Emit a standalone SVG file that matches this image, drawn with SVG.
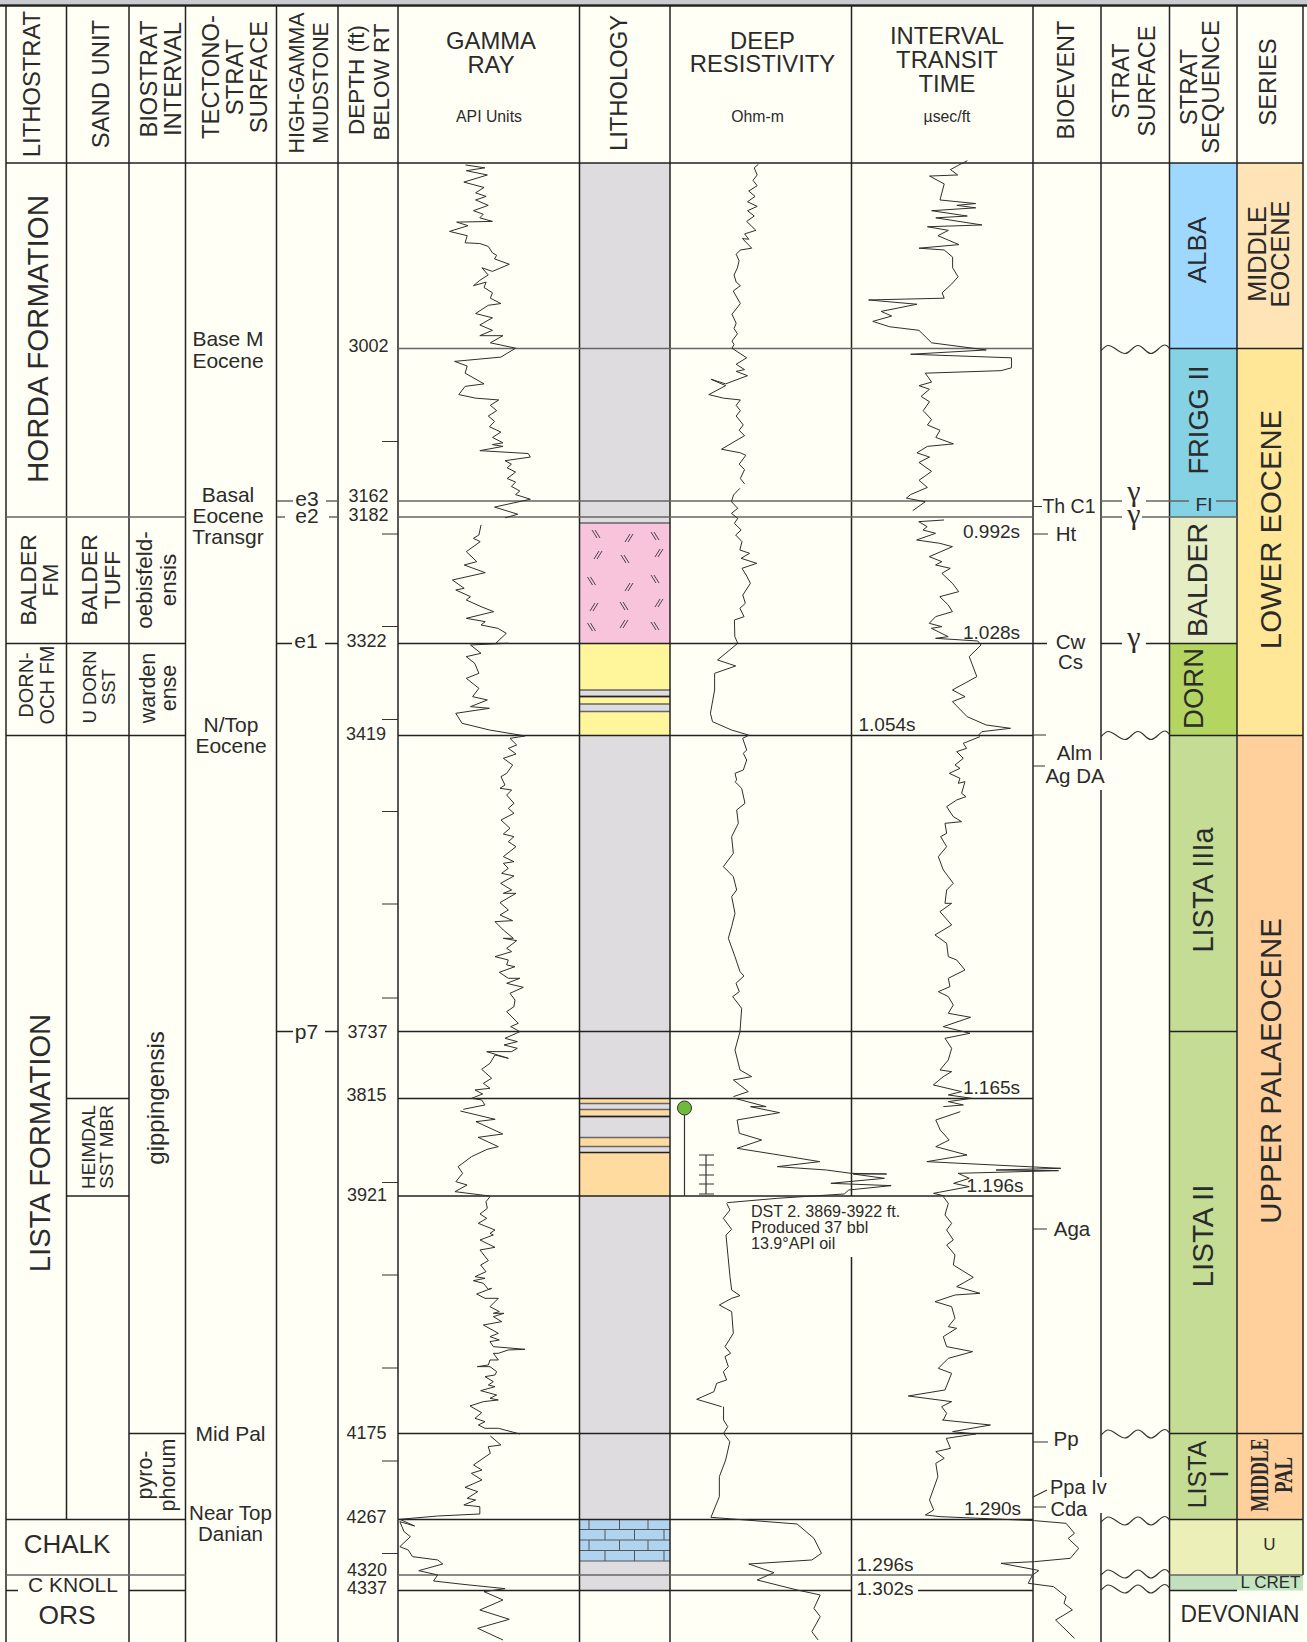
<svg xmlns="http://www.w3.org/2000/svg" width="1307" height="1642" viewBox="0 0 1307 1642">
<style>
text{font-family:"Liberation Sans",Arial,sans-serif;fill:#2b2b2b;text-anchor:middle}
.h{font-size:23.8px}
.u{font-size:15.8px}
.s{font-size:18px}
.m{font-size:21px}
.st{font-size:19px}
.c{fill:none;stroke:#2e2e2e;stroke-width:1;stroke-linejoin:round;vector-effect:non-scaling-stroke}
.l{stroke:#3a3a3a;stroke-width:1.6;fill:none}
.g{stroke:#666;stroke-width:1.6;fill:none}
.b{stroke:#222;stroke-width:1.5;fill:none}
.t{stroke:#333;stroke-width:1.2;fill:none}
.k{stroke:#555;stroke-width:1;fill:none}
.gm{font-family:"Liberation Serif","Times New Roman",serif;font-size:30px}
.sf{font-family:"Liberation Serif","Times New Roman",serif;font-weight:bold;font-size:26px}
</style>
<defs>
<g id="bs"><path d="M-5-4L0 4M-2-4L3 4" stroke="#333" stroke-width="0.9" fill="none"/></g>
<g id="fs"><path d="M-3 4L2-4M0 4L5-4" stroke="#333" stroke-width="0.9" fill="none"/></g>
<path id="wave" class="t" d="M1101 1C1104-2 1106-4 1108-4C1114-4 1119 4 1125 4C1130 4 1133-4 1138-4C1143-4 1146 4 1151 4C1156 4 1160-4.500 1165-4.500C1167-4.500 1168-3 1169.500-1"/>
</defs>
<rect width="1307" height="1642" fill="#fffff5"/>
<rect width="1307" height="4" fill="#c9cccc"/>

<g id="fills">
<rect x="579" y="163" width="91" height="1427" fill="#dfdcdf"/>
<rect x="579" y="523" width="91" height="120.500" fill="#f7c4dc"/>
<rect x="579" y="643.500" width="91" height="46.500" fill="#fff59b"/>
<rect x="579" y="696.500" width="91" height="7.500" fill="#fff59b"/>
<rect x="579" y="711.500" width="91" height="24" fill="#fff59b"/>
<rect x="579" y="1098.500" width="91" height="5" fill="#ffdba0"/>
<rect x="579" y="1109.500" width="91" height="7" fill="#ffdba0"/>
<rect x="579" y="1137.500" width="91" height="9" fill="#ffdba0"/>
<rect x="579" y="1152.500" width="91" height="43.500" fill="#ffdba0"/>
<rect x="579" y="1519.500" width="91" height="41.500" fill="#b0d4f0"/>
<rect x="1169.500" y="163" width="67.500" height="185.500" fill="#9ed8ff"/>
<rect x="1169.500" y="348.500" width="67.500" height="168.500" fill="#84d2e4"/>
<rect x="1169.500" y="517" width="67.500" height="126.500" fill="#e4edc4"/>
<rect x="1169.500" y="643.500" width="67.500" height="92" fill="#b4d661"/>
<rect x="1169.500" y="735.500" width="67.500" height="784" fill="#c4dc94"/>
<rect x="1169.500" y="1519.500" width="67.500" height="55.500" fill="#ecf0b8"/>
<rect x="1169.500" y="1575" width="67.500" height="15.500" fill="#c3e0be"/>
<rect x="1237" y="163" width="66" height="185.500" fill="#ffe4b8"/>
<rect x="1237" y="348.500" width="66" height="387" fill="#ffe797"/>
<rect x="1237" y="735.500" width="66" height="784" fill="#ffd09c"/>
<rect x="1237" y="1519.500" width="66" height="55.500" fill="#ecf0b8"/>
<rect x="1237" y="1575" width="66" height="15.500" fill="#c3e4c0"/>
</g>

<g id="lithology-marks">
<use href="#bs" x="597" y="534"/><use href="#fs" x="628" y="538"/><use href="#bs" x="656" y="536"/>
<use href="#fs" x="597" y="555"/><use href="#bs" x="626" y="559"/><use href="#fs" x="658" y="553"/>
<use href="#bs" x="592.500" y="581"/><use href="#fs" x="628" y="587"/><use href="#bs" x="656" y="579"/>
<use href="#fs" x="593" y="607"/><use href="#bs" x="625" y="606"/><use href="#fs" x="658" y="603"/>
<use href="#bs" x="592.500" y="627"/><use href="#fs" x="623" y="624"/><use href="#bs" x="656" y="626"/>
<path class="g" d="M579 523H670M579 690H670M579 704H670M579 711.500H670M579 696.500H670M579 1103.500H670M579 1109.500H670M579 1116.500H670M579 1137.500H670M579 1146.500H670"/>
<path class="b" d="M579 696.500H670M579 1116.500H670M579 1152.500H670"/>
<path class="k" d="M579 1529.500H670M579 1540H670M579 1550.500H670M579 1561H670M589 1519.500V1529.500M619.500 1519.500V1529.500M648 1519.500V1529.500M605 1529.500V1540M634.500 1529.500V1540M664 1529.500V1540M589 1540V1550.500M619.500 1540V1550.500M648 1540V1550.500M605 1550.500V1561M634.500 1550.500V1561M664 1550.500V1561"/>
</g>

<g id="grid">
<path d="M0 5.500H1307" stroke="#222" stroke-width="2.500" fill="none"/>
<path class="b" d="M6 5.500V1642M66.500 5.500V1519.500M129 5.500V1642M185.500 5.500V1642M276.500 5.500V1642M338 5.500V1642M398 5.500V1642M579.500 5.500V1642M670 5.500V1642M851.500 5.500V1196M851.500 1257V1642M1033 5.500V1642M1101 5.500V760M1101 790V1477M1101 1513V1642M1169.500 5.500V1642M1237 5.500V1575M1303 5.500V1575"/>
<path class="b" d="M6 163H1303"/>
<path class="g" d="M398 348.500H1033M398 501H1033M398 517H1033M6 517H185.500M277 501H293M326 501H338M277 517H285M329 517H338"/>
<path class="g" d="M1101 501H1122M1146 501H1189M1216 501H1237M1101 517H1122M1142 517H1169.500M1169.500 517H1237M398 1575H1033M6 1575H185.500M1169.500 1575H1303"/>
<path class="b" d="M398 643.500H1033M6 643.500H185.500M277 643.500H292M325 643.500H338M1033 643.500H1047M1101 643.500H1122M1146 643.500H1237"/>
<path class="b" d="M398 735.500H1033M6 735.500H185.500M1169.500 735.500H1303M398 1031.500H1033M277 1031.500H293M325 1031.500H338M1169.500 1031.500H1237"/>
<path class="b" d="M398 1098.500H1033M66.500 1098.500H129M398 1196H1033M66.500 1196H129M398 1433.500H1033M129 1433.500H185.500M1169.500 1433.500H1303M398 1519.500H1033M6 1519.500H185.500M1169.500 1519.500H1303M1169.500 348.500H1303M6 1590.500H18M129 1590.500H185.500M398 1590.500H851.500M918 1590.500H1033M1169.500 1590.500H1237"/>
<path class="t" d="M382 441.500H398M382 534H398M382 626.500H398M382 719.500H398M382 811.500H398M382 904H398M382 998H398M382 1182.500H398M382 1275H398M382 1368H398M382 1461H398M382 1553.500H398"/>
<path class="t" d="M1033 506.500H1042M1033 534H1048M1033 735H1046M1033 766H1045M1033 1229H1047M1033 1442H1048M1033 1497L1047 1490M1033 1507H1046"/>
</g>

<g id="unconformities">
<use href="#wave" y="349.500"/>
<use href="#wave" y="735.500"/>
<use href="#wave" y="1434"/>
<use href="#wave" y="1521"/>
<use href="#wave" y="1574"/>
<use href="#wave" y="1589"/>
</g>

<g id="gamma-ray-log">
<polyline class="c" transform="scale(.4209,.3571)" points="1106,462 1152,470 1108,478 1158,490 1102,510 1150,525 1130,540 1155,550 1130,560 1160,575 1125,590 1148,600 1140,610 1170,620 1085,622 1112,632 1068,648 1110,660 1105,680 1140,682 1160,690 1170,708 1180,715 1175,725 1210,740 1170,760 1145,750 1160,770 1140,785 1125,800 1155,790 1150,805 1170,820 1165,835 1190,850 1160,855 1130,878 1170,890 1140,910 1170,925 1140,940 1195,940 1165,960 1225,975 1190,1000 1080,1012 1110,1025 1105,1045 1150,1075 1105,1082 1090,1105 1130,1115 1185,1120 1165,1135 1180,1150 1160,1165 1175,1180 1163,1195 1190,1210 1170,1225 1195,1240 1170,1245 1195,1250 1140,1262 1255,1270 1260,1280 1200,1290 1215,1300 1205,1310 1225,1322 1205,1340 1225,1350 1215,1362 1235,1375 1225,1385 1260,1398 1175,1420 1230,1440 1200,1450"/>
<polyline class="c" transform="translate(380,480) scale(.4209,.3333)" points="240,135 235,165 222,175 238,185 205,215 230,245 200,255 250,278 172,300 200,325 180,330 215,350 205,360 240,380 270,395 205,415 250,425 240,435 280,445 300,460 275,490 305,490 215,495 240,520 205,530 225,550 235,580 205,595 235,625 220,650 255,660 215,680 260,685 180,700 195,730 260,750 345,768"/>
<polyline class="c" transform="translate(440,730) scale(.3333)" points="255,18 210,25 230,45 205,55 228,72 190,85 218,105 200,130 183,140 195,165 180,175 215,180 200,195 222,220 205,235 222,250 183,270 210,295 190,312 222,320 205,335 228,350 190,380 222,395 190,400 205,415 185,430 222,438 182,460 215,480 190,490 228,490 180,518 205,540 180,555 218,572 165,575 190,600 220,625 190,625 230,632 200,655 215,665 165,680 205,690 200,705 225,710 178,727 205,745 240,745 200,760 250,772 210,790 225,810 222,830 200,845 235,880 212,890 240,905 195,925 232,935 192,945 232,955 215,965 140,965 205,985 165,975 150,1000 125,1018 155,1045 130,1060 150,1075 105,1080 128,1092 95,1105 125,1110 135,1125 70,1138"/>
<polyline class="c" transform="translate(380,1050) scale(.4464,.3333)" points="180,183 258,208 215,215 275,252 220,262 265,290 240,298 205,320 175,350 185,370 170,395 195,405 168,425 245,438"/>
<polyline class="c" transform="translate(440,1190) scale(.3333)" points="150,20 138,35 142,55 120,72 140,85 115,100 165,120 150,130 160,135 120,150 165,172 120,180 145,212 122,225 138,245 105,260 135,265 100,272 130,280 145,298 155,295 110,312 135,325 175,325 150,350 178,365 160,370 192,370 160,380 185,395 130,405 175,430 150,440 178,450 150,455 160,470 255,478 205,480 175,490 160,490 175,510 150,510 145,525 112,530 150,530 170,545 165,555 135,560 160,575 145,585 165,590 122,602 170,615 150,625 175,630 130,635 90,648 125,668 105,685 135,695 115,705 135,715 175,715 240,732"/>
<polyline class="c" transform="translate(0,1400) scale(.4209,.3333)" points="1165,108 1190,135 1160,140 1165,160 1125,195 1145,210 1120,220 1145,240 1105,262 1135,275 1110,295 1130,300 1102,315 1140,320 1140,342 1040,348 950,358 985,378 950,365 960,395 975,410 950,440 970,450 980,470 1040,480 1052,492 995,512 1040,525 1030,543 1100,553 1200,566 1150,575 1195,600 1140,630 1210,658 1135,685 1195,720"/>
</g>

<g id="resistivity-log">
<polyline class="c" transform="translate(650,0) scale(.4203,.3571)" points="258,460 248,470 255,490 245,505 255,520 235,535 250,550 232,565 255,578 232,590 248,605 230,620 252,645 225,655 235,670 220,668 242,695 215,700 205,712 212,730 208,750 200,770 205,790 215,800 198,815 215,850 195,880 205,905 200,920 208,935 195,955 200,965 195,975 230,1002 205,1020 225,1035 205,1040 232,1052 180,1075 145,1062 180,1080 140,1105 175,1115 215,1120 205,1135 215,1150 205,1165 222,1190 212,1205 225,1220 170,1258 215,1268 228,1275 212,1300 225,1315 215,1340 225,1355"/>
<polyline class="c" transform="translate(380,480) scale(.4209,.3333)" points="855,25 840,45 835,65 850,85 835,100 850,115 842,130 858,150 845,165 860,185 855,210 878,220 858,235 895,250 860,265 870,285 880,310 862,345 868,370 855,385 865,410 842,420 843,470 850,490 802,540 845,558 795,580 795,630 785,700 790,725 835,750 875,765"/>
<polyline class="c" transform="translate(700,730) scale(.3333)" points="148,15 128,25 140,60 130,70 140,90 130,120 105,130 110,150 105,155 125,175 135,220 110,240 115,280 95,320 100,370 70,410 100,440 110,480 95,500 105,550 95,590 85,625 105,680 120,725 132,738 108,760 118,785 98,800 125,835 120,905 105,960 120,1020 155,1040 100,1050 145,1085 100,1100"/>
<polyline class="c" transform="translate(380,1050) scale(.4464,.3333)" points="795,145 865,170 830,170 895,188 800,210 805,250 855,270 800,295 880,312 985,335 890,350 1000,360 1055,370 1135,372 1060,372 1130,385 1010,400 1145,407 1050,420 1040,432 890,445 778,458"/>
<polyline class="c" transform="translate(690,1190) scale(.3333)" points="110,40 120,60 100,85 125,118 108,135 120,260 125,300 150,317 125,325 88,345 125,365 130,430 105,470 122,490 105,500 115,530 100,545 110,570 80,580 72,605 20,628 95,650"/>
<polyline class="c" transform="translate(650,1400) scale(.4203,.3333)" points="175,20 175,60 185,80 175,100 190,125 180,180 165,230 165,290 145,352 350,372 390,415 408,460 385,480 235,492 295,518 255,540 350,570 405,585 390,625 405,650 385,695 400,720"/>
</g>

<g id="transit-time-log">
<polyline class="c" transform="translate(650,0) scale(.4203,.3571)" points="755,450 735,462 715,475 732,490 665,493 700,515 690,560 775,570 730,575 775,582 670,590 755,605 680,610 790,630 660,635 710,645 685,660 735,685 640,695 700,700 720,720 720,750 733,775 718,795 695,820 700,835 520,840 635,852 550,872 575,885 530,900 570,915 640,925 670,960 800,980 620,992 860,1002 860,1030 835,1038 655,1045 670,1070 640,1080 665,1090 645,1110 665,1125 650,1150 670,1175 660,1190 690,1205 680,1225 722,1243 660,1250 635,1268 665,1280 640,1295 670,1320 640,1345 660,1365 620,1385 610,1395 655,1405 625,1430"/>
<polyline class="c" transform="translate(380,480) scale(.4209,.3333)" points="1340,120 1280,125 1300,140 1290,150 1320,160 1275,180 1330,190 1360,200 1305,230 1335,245 1320,255 1355,265 1335,280 1360,310 1375,335 1330,350 1350,375 1360,395 1320,410 1305,430 1335,440 1310,445 1350,470 1320,475 1420,483 1428,495 1400,530 1418,590 1360,630 1390,650 1360,665 1395,710 1440,735 1498,745 1430,755 1420,768"/>
<polyline class="c" transform="translate(700,730) scale(.3333)" points="840,20 790,40 800,55 770,65 790,85 765,105 780,115 748,130 780,145 775,160 795,155 785,190 798,200 770,210 740,230 760,260 785,275 735,280 740,310 722,320 740,350 715,380 730,420 745,440 760,460 740,480 735,520 755,520 720,545 755,585 705,615 740,640 745,680 770,690 795,720 745,745 750,770 715,785 745,800 760,825 745,850 812,862 730,890 810,910 735,925 755,955 745,990 720,1020 755,1025 730,1040 700,1065 785,1085 745,1095 815,1105 745,1115 790,1125 730,1130"/>
<polyline class="c" transform="translate(380,1050) scale(.4464,.3333)" points="1300,185 1245,210 1255,240 1275,270 1245,290 1315,315 1225,335 1525,355 1380,360 1520,362 1295,370 1320,385 1285,400 1320,410 1240,430 1265,438"/>
<polyline class="c" transform="translate(690,1190) scale(.3333)" points="760,20 775,40 765,75 785,100 770,120 790,150 770,165 795,195 790,225 850,262 800,290 870,310 795,315 735,335 785,350 795,385 775,410 800,415 760,440 770,470 848,485 775,505 745,535 785,550 765,600 655,618 785,635 755,650 770,670 760,690"/>
<polyline class="c" transform="translate(650,1400) scale(.4203,.3333)" points="695,60 810,75 720,95 775,102 705,115 715,145 680,155 700,175 680,190 685,230 665,300 675,330 655,345 690,350 915,362 990,370 1010,400 995,415 1020,445 1000,475 915,485 835,490 920,510 925,512 910,525 900,550 960,560 990,590 985,610 1005,630 965,660 1010,715"/>
</g>

<g id="dst-marker">
<path class="t" d="M684.500 1115V1196M706 1155V1194M699 1155H714M699 1165H714M699 1175H714M699 1184H714M699 1194H714"/>
<ellipse cx="684.500" cy="1108" rx="7" ry="7" fill="#6fb93c" stroke="#333" stroke-width="1"/>
</g>

<g id="headers">
<text class="h" transform="translate(40,84) rotate(-90)">LITHOSTRAT</text>
<text class="h" transform="translate(108.500,84) rotate(-90)">SAND UNIT</text>
<text class="h" transform="translate(157,79) rotate(-90)">BIOSTRAT</text>
<text class="h" transform="translate(181,79) rotate(-90)">INTERVAL</text>
<text class="h" transform="translate(219,77) rotate(-90)">TECTONO-</text>
<text class="h" transform="translate(243,77) rotate(-90)">STRAT</text>
<text class="h" transform="translate(267,77) rotate(-90)">SURFACE</text>
<text class="h" style="font-size:21.300px" transform="translate(304,83) rotate(-90)">HIGH-GAMMA</text>
<text class="h" style="font-size:21.300px" transform="translate(328,83) rotate(-90)">MUDSTONE</text>
<text class="h" style="font-size:22.500px" transform="translate(364,80) rotate(-90)">DEPTH (ft)</text>
<text class="h" style="font-size:22.500px" transform="translate(389,82) rotate(-90)">BELOW RT</text>
<text class="h" x="491" y="48.500">GAMMA</text>
<text class="h" x="491" y="73">RAY</text>
<text class="u" x="489" y="122">API Units</text>
<text class="h" transform="translate(627,83) rotate(-90)">LITHOLOGY</text>
<text class="h" x="762.500" y="48.500">DEEP</text>
<text class="h" x="762.500" y="72">RESISTIVITY</text>
<text class="u" x="757.500" y="122">Ohm-m</text>
<text class="h" x="947" y="43.500">INTERVAL</text>
<text class="h" x="947" y="68">TRANSIT</text>
<text class="h" x="947" y="92">TIME</text>
<text class="u" x="947" y="121.500">µsec/ft</text>
<text class="h" style="font-size:23.500px" transform="translate(1074,80) rotate(-90)">BIOEVENT</text>
<text class="h" style="font-size:23.500px" transform="translate(1129,81) rotate(-90)">STRAT</text>
<text class="h" style="font-size:23.500px" transform="translate(1154.500,81) rotate(-90)">SURFACE</text>
<text class="h" transform="translate(1196.500,87) rotate(-90)">STRAT</text>
<text class="h" transform="translate(1219,87) rotate(-90)">SEQUENCE</text>
<text class="h" transform="translate(1275.500,82) rotate(-90)">SERIES</text>
</g>

<g id="lithostrat-labels">
<text style="font-size:29.500px" transform="translate(47.500,339) rotate(-90)">HORDA FORMATION</text>
<text style="font-size:22.800px" transform="translate(36,580) rotate(-90)">BALDER</text>
<text style="font-size:22.800px" transform="translate(58,580) rotate(-90)">FM</text>
<text style="font-size:20px" transform="translate(33,685) rotate(-90)">DORN-</text>
<text style="font-size:20px" transform="translate(54,685) rotate(-90)">OCH FM</text>
<text style="font-size:29.200px" transform="translate(50,1143) rotate(-90)">LISTA FORMATION</text>
<text style="font-size:26px" x="67" y="1552.500">CHALK</text>
<text style="font-size:21px" x="73" y="1591.500">C KNOLL</text>
<text style="font-size:26.400px" x="67" y="1623.500">ORS</text>
<text style="font-size:22.800px" transform="translate(97,580) rotate(-90)">BALDER</text>
<text style="font-size:22.800px" transform="translate(120,580) rotate(-90)">TUFF</text>
<text style="font-size:18.500px" transform="translate(96,687) rotate(-90)">U DORN</text>
<text style="font-size:18.500px" transform="translate(115,687) rotate(-90)">SST</text>
<text style="font-size:18.900px" transform="translate(95,1147) rotate(-90)">HEIMDAL</text>
<text style="font-size:18.900px" transform="translate(113,1147) rotate(-90)">SST MBR</text>
<text style="font-size:22.500px" transform="translate(152,580) rotate(-90)">oebisfeld-</text>
<text style="font-size:22.500px" transform="translate(176,580) rotate(-90)">ensis</text>
<text style="font-size:21.500px" transform="translate(155,688) rotate(-90)">warden</text>
<text style="font-size:21.500px" transform="translate(176,688) rotate(-90)">ense</text>
<text style="font-size:24px" transform="translate(163.500,1098) rotate(-90)">gippingensis</text>
<text style="font-size:21.500px" transform="translate(151.500,1475) rotate(-90)">pyro-</text>
<text style="font-size:21.500px" transform="translate(174.500,1475) rotate(-90)">phorum</text>
</g>

<g id="tectono-labels">
<text class="m" x="228" y="345.500">Base M</text>
<text class="m" x="228" y="368">Eocene</text>
<text class="m" x="228" y="501.500">Basal</text>
<text class="m" x="228" y="523">Eocene</text>
<text class="m" x="228" y="544">Transgr</text>
<text class="m" x="231" y="732">N/Top</text>
<text class="m" x="231" y="753">Eocene</text>
<text class="m" x="230.500" y="1440.500">Mid Pal</text>
<text class="m" style="font-size:20.500px" x="230.500" y="1520">Near Top</text>
<text class="m" style="font-size:20.500px" x="230.500" y="1540.500">Danian</text>
<text class="m" x="307" y="505.500">e3</text>
<text class="m" x="307" y="523">e2</text>
<text class="m" x="306" y="647.500">e1</text>
<text class="m" x="306.500" y="1039">p7</text>
</g>

<g id="depth-labels">
<text class="s" x="368.500" y="352">3002</text>
<text class="s" x="368.500" y="502">3162</text>
<text class="s" x="368.500" y="521">3182</text>
<text class="s" x="366.500" y="647">3322</text>
<text class="s" x="366" y="740">3419</text>
<text class="s" x="367.500" y="1038">3737</text>
<text class="s" x="366.500" y="1101">3815</text>
<text class="s" x="367" y="1200.500">3921</text>
<text class="s" x="366.500" y="1439">4175</text>
<text class="s" x="366.500" y="1523">4267</text>
<text class="s" x="367" y="1575.500">4320</text>
<text class="s" x="367" y="1594">4337</text>
</g>

<g id="time-labels">
<text class="st" x="991.500" y="537.500">0.992s</text>
<text class="st" x="991.500" y="638.500">1.028s</text>
<text class="st" x="887" y="730.500">1.054s</text>
<text class="st" x="991.500" y="1093.500">1.165s</text>
<text class="st" x="995" y="1191.500">1.196s</text>
<text class="st" x="992.500" y="1515">1.290s</text>
<text class="st" x="885" y="1571">1.296s</text>
<text class="st" x="885" y="1595">1.302s</text>
<g style="font-size:16.100px">
<text style="text-anchor:start" x="751" y="1216.500">DST 2. 3869-3922 ft.</text>
<text style="text-anchor:start" x="751" y="1232.500">Produced 37 bbl</text>
<text style="text-anchor:start" x="751" y="1248.500">13.9°API oil</text>
</g>
</g>

<g id="bioevent-labels">
<text class="m" style="font-size:19.500px" x="1069" y="512.500">Th C1</text>
<text class="m" style="font-size:20.500px" x="1066" y="540.500">Ht</text>
<text class="m" style="font-size:20.500px" x="1070.500" y="649">Cw</text>
<text class="m" style="font-size:20.500px" x="1070.500" y="669">Cs</text>
<text class="m" style="font-size:20.500px" x="1074.500" y="760">Alm</text>
<text class="m" style="font-size:20.500px" x="1075" y="782.500">Ag DA</text>
<text class="m" style="font-size:20.500px" x="1072" y="1235.500">Aga</text>
<text class="m" style="font-size:20.500px" x="1066" y="1446">Pp</text>
<text class="m" style="text-anchor:start;font-size:20px" x="1050" y="1494">Ppa Iv</text>
<text class="m" style="text-anchor:start;font-size:20px" x="1050.500" y="1516">Cda</text>
</g>

<g id="strat-surface-labels">
<text class="gm" x="1134" y="501">γ</text>
<text class="gm" x="1134" y="524">γ</text>
<text class="gm" x="1134" y="647">γ</text>
<text style="font-size:19px" x="1204" y="510.500">FI</text>
</g>

<g id="sequence-labels">
<text style="font-size:26px" transform="translate(1205.500,250) rotate(-90)">ALBA</text>
<text style="font-size:27.300px" transform="translate(1208,420) rotate(-90)">FRIGG II</text>
<text style="font-size:28.500px" transform="translate(1207,580) rotate(-90)">BALDER</text>
<text style="font-size:27.500px" transform="translate(1203,688.500) rotate(-90)">DORN</text>
<text style="font-size:29px" transform="translate(1213,890) rotate(-90)">LISTA IIIa</text>
<text style="font-size:29.600px" transform="translate(1213,1236) rotate(-90)">LISTA II</text>
<text style="font-size:25px" transform="translate(1206,1474.500) rotate(-90)">LISTA</text>
<text style="font-size:25px" transform="translate(1228,1474) rotate(-90)">I</text>
</g>

<g id="series-labels">
<text style="font-size:25.300px" transform="translate(1266,254) rotate(-90)">MIDDLE</text>
<text style="font-size:25.300px" transform="translate(1289,254) rotate(-90)">EOCENE</text>
<text style="font-size:29.300px" transform="translate(1280.500,529.500) rotate(-90)">LOWER EOCENE</text>
<text style="font-size:29.300px" transform="translate(1281,1071) rotate(-90)">UPPER PALAEOCENE</text>
<text class="sf" textLength="73" lengthAdjust="spacingAndGlyphs" transform="translate(1268,1475) rotate(-90)">MIDDLE</text>
<text class="sf" textLength="36" lengthAdjust="spacingAndGlyphs" transform="translate(1292,1475) rotate(-90)">PAL</text>
<text style="font-size:17px" x="1269.500" y="1550">U</text>
<text style="font-size:17px" x="1270.500" y="1588">L CRET</text>
<text style="font-size:23px" textLength="119" lengthAdjust="spacingAndGlyphs" x="1240" y="1621.500">DEVONIAN</text>
</g>
</svg>
